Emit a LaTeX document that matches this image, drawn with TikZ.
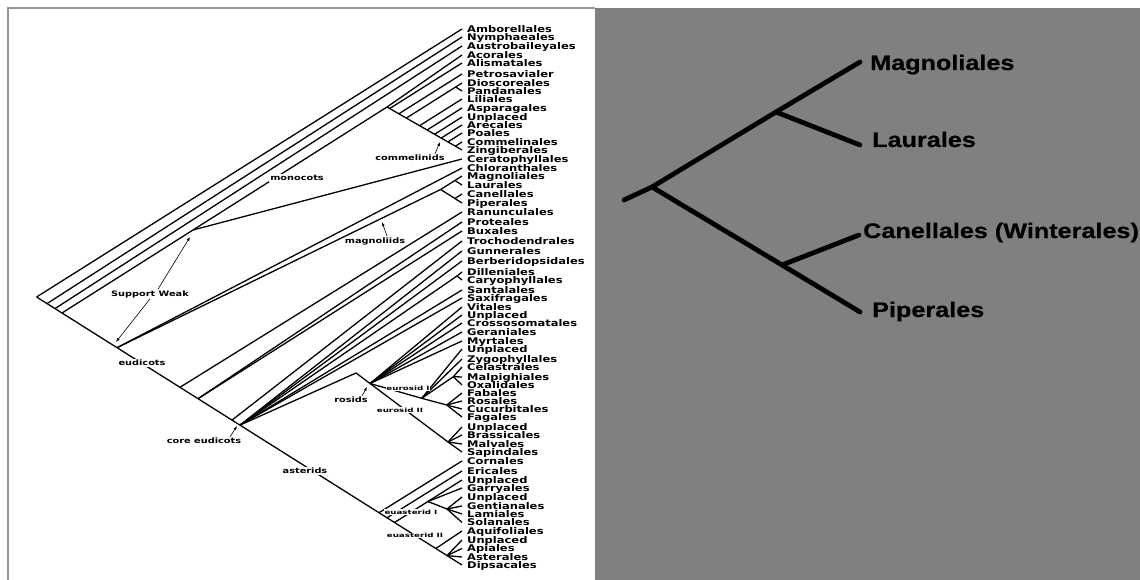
\documentclass[tikz,border=0pt]{standalone}
\usepackage{fontspec}
\usetikzlibrary{arrows.meta, calc}
\newfontfamily\tipfont[FakeStretch=1.25]{DejaVu Sans}
\newfontfamily\cladefont[FakeStretch=1.3]{DejaVu Sans}
\newfontfamily\subcladefont[FakeStretch=1.5]{DejaVu Sans}
\newfontfamily\rightfont[FakeStretch=1.2, FakeBold=0.6]{Liberation Sans}
\definecolor{panelgray}{RGB}{128,128,128}
\definecolor{framegray}{RGB}{150,150,150}

\begin{document}
\begin{tikzpicture}[
  x=1pt, y=-1pt,
  branch/.style={line width=1.3pt},
  tip/.style={anchor=base west, inner sep=0pt, font=\tipfont\bfseries\fontsize{9.2}{9.2}\selectfont},
  clade/.style={inner sep=1pt, font=\cladefont\bfseries\fontsize{7.5}{7.5}\selectfont},
  cutclade/.style={clade, fill=white},
  subclade/.style={fill=white, inner sep=0.5pt, font=\subcladefont\bfseries\fontsize{5.8}{5.8}\selectfont},
  pointer/.style={-{Latex[length=4pt,width=3pt]}, line width=0.6pt},
  bigbranch/.style={line width=4.8pt, line cap=round, line join=round},
  bigtip/.style={anchor=base west, inner sep=0pt, font=\rightfont\bfseries\fontsize{21}{21}\selectfont}
]

  \useasboundingbox (0,0) rectangle (1140,580);
  \fill[panelgray] (595,8) rectangle (1140,580);
  \draw[framegray, line width=1.5pt] (8,580) -- (8,8) -- (595,8);

  % tips and their names
  \foreach \i/\ty/\tname in {1/29/Amborellales, 2/37/Nymphaeales, 3/46/Austrobaileyales,
      4/55/Acorales, 5/63/Alismatales, 6/74/Petrosavialer, 7/83/Dioscoreales,
      8/91/Pandanales, 9/99/Liliales, 10/108/Asparagales, 11/117/Unplaced,
      12/125/Arecales, 13/133/Poales, 14/142/Commelinales, 15/150/Zingiberales,
      16/159/Ceratophyllales, 17/168/Chloranthales, 18/176/Magnoliales,
      19/185/Laurales, 20/194/Canellales, 21/203/Piperales, 22/212/Ranunculales,
      23/222/Proteales, 24/231/Buxales, 25/241/Trochodendrales, 26/251/Gunnerales,
      27/261/Berberidopsidales, 28/272/Dilleniales, 29/280/Caryophyllales,
      30/290/Santalales, 31/298/Saxifragales, 32/307/Vitales, 33/315/Unplaced,
      34/323/Crossosomatales, 35/332/Geraniales, 36/341/Myrtales, 37/349/Unplaced,
      38/359/Zygophyllales, 39/367/Celastrales, 40/377/Malpighiales,
      41/385/Oxalidales, 42/393/Fabales, 43/401/Rosales, 44/409/Cucurbitales,
      45/417/Fagales, 46/427/Unplaced, 47/435/Brassicales, 48/444/Malvales,
      49/452/Sapindales, 50/461/Cornales, 51/471/Ericales, 52/480/Unplaced,
      53/488/Garryales, 54/497/Unplaced, 55/506/Gentianales, 56/514/Lamiales,
      57/522.5/Solanales, 58/531/Aquifoliales, 59/540/Unplaced, 60/548.5/Apiales,
      61/557/Asterales, 62/565/Dipsacales}{
    \coordinate (t\i) at (462,\ty);
    \node[tip] (l\i) at (467,\ty+3.2) {\tname};
  }

  % backbone
  \coordinate (root) at (36.6,297);
  \coordinate (n2) at (47,303.6);
  \coordinate (n3) at (55,308.6);
  \coordinate (n4) at (62,313);
  \coordinate (eud) at (117,347.7);
  \coordinate (ran) at (180,387.3);
  \coordinate (pb) at (198,398.7);
  \coordinate (tro) at (232,420.1);
  \coordinate (core) at (240,425.1);
  \coordinate (ast) at (379,512.7);
  \coordinate (eric) at (387,517.8);
  \coordinate (eua) at (394.5,522.5);
  \coordinate (eii) at (435.8,548.5);
  \coordinate (eiif) at (447,555.6);

  % monocots and the weak node
  \coordinate (weaknode) at (193,230);
  \coordinate (mono) at (387,107);
  \coordinate (m5) at (389.7,108.5);
  \coordinate (m6) at (398.8,113.8);
  \coordinate (m7) at (406.3,118.1);
  \coordinate (dp) at (455.7,87);
  \coordinate (m9) at (419.6,125.7);
  \coordinate (m10) at (427.1,130.0);
  \coordinate (m11) at (434.6,134.3);
  \coordinate (comm) at (441.2,138.1);
  \coordinate (m13) at (447.9,141.9);
  \coordinate (m14) at (455.4,146.2);

  % magnoliids
  \coordinate (mag) at (440.6,189.5);
  \coordinate (mgl) at (454.9,180.5);
  \coordinate (cp) at (454.9,198.5);

  % core eudicots and rosids
  \coordinate (dc) at (457,276);
  \coordinate (v1) at (356,373);
  \coordinate (v2) at (370,383.5);
  \coordinate (er1) at (421.7,398.3);
  \coordinate (cmo) at (453.3,376.7);
  \coordinate (frcf) at (446.7,405);
  \coordinate (er2) at (448,442);

  % asterids
  \coordinate (ei) at (427.9,501.5);
  \coordinate (eif) at (447,509);

  \draw[branch] (root) -- (t1);
  \draw[branch] (root) -- (t62);
  \draw[branch] (n2) -- (t2);
  \draw[branch] (n3) -- (t3);
  \draw[branch] (n4) -- (weaknode) -- (mono) -- (t4);
  \draw[branch] (weaknode) -- (t16);
  \draw[branch] (mono) -- (t15);
  \draw[branch] (m5) -- (t5);
  \draw[branch] (m6) -- (t6);
  \draw[branch] (m7) -- (dp) -- (t7);
  \draw[branch] (dp) -- (t8);
  \draw[branch] (m9) -- (t9);
  \draw[branch] (m10) -- (t10);
  \draw[branch] (m11) -- (t11);
  \draw[branch] (comm) -- (t12);
  \draw[branch] (m13) -- (t13);
  \draw[branch] (m14) -- (t14);

  \draw[branch] (eud) -- (t17);
  \draw[branch] (eud) -- (mag);
  \draw[branch] (mag) -- (mgl) -- (t18);
  \draw[branch] (mgl) -- (t19);
  \draw[branch] (mag) -- (cp) -- (t20);
  \draw[branch] (cp) -- (t21);

  \draw[branch] (ran) -- (t22);
  \draw[branch] (pb) -- (t23);
  \draw[branch] (pb) -- (t24);
  \draw[branch] (tro) -- (t25);
  \foreach \k in {26,27,30,31}
    \draw[branch] (core) -- (t\k);
  \draw[branch] (core) -- (dc) -- (t28);
  \draw[branch] (dc) -- (t29);
  \draw[branch] (core) -- (v1) -- (er2);
  \foreach \k in {32,...,36}
    \draw[branch] (v2) -- (t\k);
  \draw[branch] (v2) -- (er1);
  \draw[branch] (er1) -- (t37);
  \draw[branch] (er1) -- (t38);
  \draw[branch] (er1) -- (cmo);
  \foreach \k in {39,40,41}
    \draw[branch] (cmo) -- (t\k);
  \draw[branch] (er1) -- (frcf);
  \foreach \k in {42,...,45}
    \draw[branch] (frcf) -- (t\k);
  \foreach \k in {46,...,49}
    \draw[branch] (er2) -- (t\k);

  \draw[branch] (ast) -- (t50);
  \draw[branch] (eric) -- (t51);
  \draw[branch] (eua) -- (ei);
  \draw[branch] (ei) -- (t52);
  \draw[branch] (ei) -- (t53);
  \draw[branch] (ei) -- (eif);
  \foreach \k in {54,...,57}
    \draw[branch] (eif) -- (t\k);
  \draw[branch] (eii) -- (t58);
  \foreach \k in {59,60,61}
    \draw[branch] (eiif) -- (t\k);

  % clade names
  \node[clade] (weak) at (150,294) {Support Weak};
  \node[cutclade] (monolab) at (297,178) {monocots};
  \node[clade] (commlab) at (410,158) {commelinids};
  \node[clade] (maglab) at (375,241) {magnoliids};
  \node[cutclade] (eudlab) at (142,363) {eudicots};
  \node[clade] (corelab) at (204,441) {core eudicots};
  \node[cutclade] (astlab) at (305,471) {asterids};
  \node[clade] (roslab) at (351,400) {rosids};
  \node[subclade] (er1lab) at (408,388) {eurosid I};
  \node[subclade] (er2lab) at (400,410) {eurosid II};
  \node[subclade] (ei1lab) at (411,512) {euasterid I};
  \node[subclade] (ei2lab) at (415,535.5) {euasterid II};

  % pointers
  \coordinate (weaktipa) at (190,237);
  \coordinate (weaktipb) at (116,342);
  \coordinate (commtip) at (440,142);
  \coordinate (magtip) at (382,222);
  \coordinate (rostip) at (367,387);
  \coordinate (coretip) at (237,426);
  \draw[pointer] ([xshift=8pt]weak.north) -- (weaktipa);
  \draw[pointer] (weak.south) -- (weaktipb);
  \draw[pointer] ([xshift=25pt]commlab.north) -- (commtip);
  \draw[pointer] ([xshift=12pt]maglab.north) -- (magtip);
  \draw[pointer] ([xshift=11pt]roslab.north) -- (rostip);
  \draw[pointer] ([xshift=26pt]corelab.north) -- (coretip);

  % right panel
  \coordinate (rroot) at (624,200);
  \coordinate (rn1) at (652,187);
  \coordinate (rn2) at (776,112);
  \coordinate (rn3) at (782,265);
  \coordinate (rmag) at (860,62);
  \coordinate (rlau) at (860,145);
  \coordinate (rcan) at (859,235);
  \coordinate (rpip) at (860,312);
  \draw[bigbranch] (rroot) -- (rn1) -- (rn2) -- (rmag);
  \draw[bigbranch] (rn2) -- (rlau);
  \draw[bigbranch] (rn1) -- (rn3) -- (rpip);
  \draw[bigbranch] (rn3) -- (rcan);
  \node[bigtip] (rmaglab) at (870,70) {Magnoliales};
  \node[bigtip] (rlaulab) at (872,147) {Laurales};
  \node[bigtip] (rcanlab) at (863,238) {Canellales (Winterales)};
  \node[bigtip] (rpiplab) at (872,317) {Piperales};

\end{tikzpicture}
\end{document}
